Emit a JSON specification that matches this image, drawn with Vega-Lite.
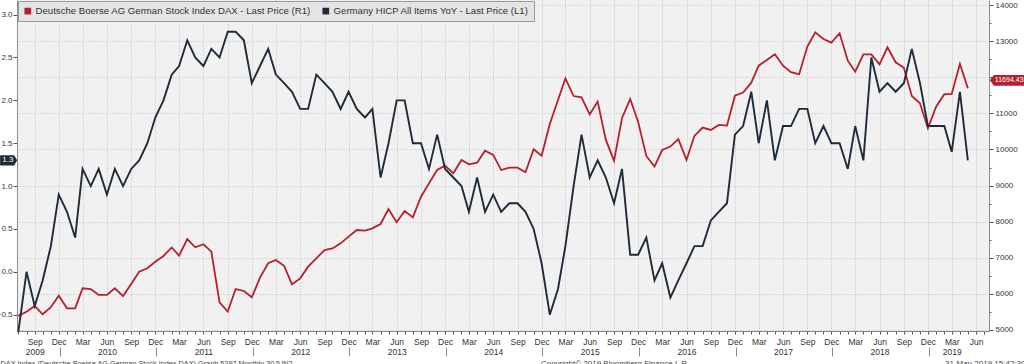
{
  "$schema": "https://vega.github.io/schema/vega-lite/v6.json",
  "width": 972,
  "height": 331,
  "autosize": "none",
  "padding": {"left": 17, "top": 0, "right": 35, "bottom": 33},
  "background": "#ffffff",
  "config": {
    "view": {"fill": "#f1f1f1", "stroke": null},
    "font": "Liberation Sans",
    "axis": {"labelFont": "Liberation Sans", "titleFont": "Liberation Sans"}
  },
  "data": {"values": [
    {"date":"2009-07-01","hicp":-0.7,"dax":5390},
    {"date":"2009-08-01","hicp":0.0,"dax":5505},
    {"date":"2009-09-01","hicp":-0.4,"dax":5665},
    {"date":"2009-10-01","hicp":-0.1,"dax":5435},
    {"date":"2009-11-01","hicp":0.3,"dax":5630},
    {"date":"2009-12-01","hicp":0.9,"dax":5950},
    {"date":"2010-01-01","hicp":0.7,"dax":5600},
    {"date":"2010-02-01","hicp":0.4,"dax":5600},
    {"date":"2010-03-01","hicp":1.2,"dax":6155},
    {"date":"2010-04-01","hicp":1.0,"dax":6135},
    {"date":"2010-05-01","hicp":1.2,"dax":5970},
    {"date":"2010-06-01","hicp":0.9,"dax":5970},
    {"date":"2010-07-01","hicp":1.2,"dax":6155},
    {"date":"2010-08-01","hicp":1.0,"dax":5940},
    {"date":"2010-09-01","hicp":1.2,"dax":6275},
    {"date":"2010-10-01","hicp":1.3,"dax":6615},
    {"date":"2010-11-01","hicp":1.5,"dax":6710},
    {"date":"2010-12-01","hicp":1.8,"dax":6890},
    {"date":"2011-01-01","hicp":2.0,"dax":7050},
    {"date":"2011-02-01","hicp":2.3,"dax":7285},
    {"date":"2011-03-01","hicp":2.4,"dax":7060},
    {"date":"2011-04-01","hicp":2.7,"dax":7520},
    {"date":"2011-05-01","hicp":2.5,"dax":7290},
    {"date":"2011-06-01","hicp":2.4,"dax":7375},
    {"date":"2011-07-01","hicp":2.6,"dax":7170},
    {"date":"2011-08-01","hicp":2.5,"dax":5765},
    {"date":"2011-09-01","hicp":2.8,"dax":5510},
    {"date":"2011-10-01","hicp":2.8,"dax":6135},
    {"date":"2011-11-01","hicp":2.7,"dax":6080},
    {"date":"2011-12-01","hicp":2.2,"dax":5905},
    {"date":"2012-01-01","hicp":2.4,"dax":6450},
    {"date":"2012-02-01","hicp":2.6,"dax":6850},
    {"date":"2012-03-01","hicp":2.3,"dax":6940},
    {"date":"2012-04-01","hicp":2.2,"dax":6780},
    {"date":"2012-05-01","hicp":2.1,"dax":6265},
    {"date":"2012-06-01","hicp":1.9,"dax":6430},
    {"date":"2012-07-01","hicp":1.9,"dax":6755},
    {"date":"2012-08-01","hicp":2.3,"dax":6985},
    {"date":"2012-09-01","hicp":2.2,"dax":7215},
    {"date":"2012-10-01","hicp":2.1,"dax":7260},
    {"date":"2012-11-01","hicp":1.9,"dax":7400},
    {"date":"2012-12-01","hicp":2.1,"dax":7585},
    {"date":"2013-01-01","hicp":1.9,"dax":7770},
    {"date":"2013-02-01","hicp":1.8,"dax":7750},
    {"date":"2013-03-01","hicp":1.9,"dax":7815},
    {"date":"2013-04-01","hicp":1.1,"dax":7935},
    {"date":"2013-05-01","hicp":1.5,"dax":8350},
    {"date":"2013-06-01","hicp":2.0,"dax":7985},
    {"date":"2013-07-01","hicp":2.0,"dax":8295},
    {"date":"2013-08-01","hicp":1.5,"dax":8120},
    {"date":"2013-09-01","hicp":1.5,"dax":8690},
    {"date":"2013-10-01","hicp":1.2,"dax":9060},
    {"date":"2013-11-01","hicp":1.6,"dax":9430},
    {"date":"2013-12-01","hicp":1.2,"dax":9550},
    {"date":"2014-01-01","hicp":1.1,"dax":9340},
    {"date":"2014-02-01","hicp":1.0,"dax":9710},
    {"date":"2014-03-01","hicp":0.7,"dax":9590},
    {"date":"2014-04-01","hicp":1.1,"dax":9635},
    {"date":"2014-05-01","hicp":0.7,"dax":9965},
    {"date":"2014-06-01","hicp":0.9,"dax":9850},
    {"date":"2014-07-01","hicp":0.7,"dax":9430},
    {"date":"2014-08-01","hicp":0.8,"dax":9495},
    {"date":"2014-09-01","hicp":0.8,"dax":9495},
    {"date":"2014-10-01","hicp":0.7,"dax":9370},
    {"date":"2014-11-01","hicp":0.5,"dax":10005},
    {"date":"2014-12-01","hicp":0.1,"dax":9830},
    {"date":"2015-01-01","hicp":-0.5,"dax":10705},
    {"date":"2015-02-01","hicp":-0.2,"dax":11370},
    {"date":"2015-03-01","hicp":0.3,"dax":11970},
    {"date":"2015-04-01","hicp":1.0,"dax":11480},
    {"date":"2015-05-01","hicp":1.6,"dax":11445},
    {"date":"2015-06-01","hicp":1.1,"dax":10975},
    {"date":"2015-07-01","hicp":1.3,"dax":11325},
    {"date":"2015-08-01","hicp":1.1,"dax":10265},
    {"date":"2015-09-01","hicp":0.8,"dax":9690},
    {"date":"2015-10-01","hicp":1.2,"dax":10865},
    {"date":"2015-11-01","hicp":0.2,"dax":11400},
    {"date":"2015-12-01","hicp":0.2,"dax":10770},
    {"date":"2016-01-01","hicp":0.4,"dax":9820},
    {"date":"2016-02-01","hicp":-0.1,"dax":9525},
    {"date":"2016-03-01","hicp":0.1,"dax":9985},
    {"date":"2016-04-01","hicp":-0.3,"dax":10080},
    {"date":"2016-05-01","hicp":-0.1,"dax":10285},
    {"date":"2016-06-01","hicp":0.1,"dax":9710},
    {"date":"2016-07-01","hicp":0.3,"dax":10375},
    {"date":"2016-08-01","hicp":0.3,"dax":10605},
    {"date":"2016-09-01","hicp":0.6,"dax":10540},
    {"date":"2016-10-01","hicp":0.7,"dax":10680},
    {"date":"2016-11-01","hicp":0.8,"dax":10660},
    {"date":"2016-12-01","hicp":1.6,"dax":11490},
    {"date":"2017-01-01","hicp":1.7,"dax":11575},
    {"date":"2017-02-01","hicp":2.1,"dax":11850},
    {"date":"2017-03-01","hicp":1.5,"dax":12320},
    {"date":"2017-04-01","hicp":2.0,"dax":12480},
    {"date":"2017-05-01","hicp":1.3,"dax":12635},
    {"date":"2017-06-01","hicp":1.7,"dax":12320},
    {"date":"2017-07-01","hicp":1.7,"dax":12140},
    {"date":"2017-08-01","hicp":1.9,"dax":12085},
    {"date":"2017-09-01","hicp":1.9,"dax":12850},
    {"date":"2017-10-01","hicp":1.5,"dax":13245},
    {"date":"2017-11-01","hicp":1.7,"dax":13060},
    {"date":"2017-12-01","hicp":1.5,"dax":12960},
    {"date":"2018-01-01","hicp":1.5,"dax":13220},
    {"date":"2018-02-01","hicp":1.2,"dax":12460},
    {"date":"2018-03-01","hicp":1.7,"dax":12155},
    {"date":"2018-04-01","hicp":1.3,"dax":12635},
    {"date":"2018-05-01","hicp":2.5,"dax":12635},
    {"date":"2018-06-01","hicp":2.1,"dax":12360},
    {"date":"2018-07-01","hicp":2.2,"dax":12830},
    {"date":"2018-08-01","hicp":2.1,"dax":12415},
    {"date":"2018-09-01","hicp":2.2,"dax":12265},
    {"date":"2018-10-01","hicp":2.6,"dax":11480},
    {"date":"2018-11-01","hicp":2.2,"dax":11280},
    {"date":"2018-12-01","hicp":1.7,"dax":10585},
    {"date":"2019-01-01","hicp":1.7,"dax":11185},
    {"date":"2019-02-01","hicp":1.7,"dax":11530},
    {"date":"2019-03-01","hicp":1.4,"dax":11540},
    {"date":"2019-04-01","hicp":2.1,"dax":12370},
    {"date":"2019-05-01","hicp":1.3,"dax":11694.43}
  ]},
  "resolve": {"scale": {"y": "independent"}, "axis": {"x": "independent"}},
  "layer": [
    {
      "encoding": {
        "x": {
          "field": "date", "type": "temporal",
          "scale": {"type": "utc", "domain": [{"year": 2009, "month": 6, "date": 26, "utc": true}, {"year": 2019, "month": 7, "date": 20, "utc": true}]},
          "axis": {
            "tickCount": {"interval": "month", "step": 1},
            "labelExpr": "utcmonth(datum.value) % 3 != 2 ? '' : (((utcmonth(datum.value) == 5 && utcyear(datum.value) >= 2010 && utcyear(datum.value) <= 2018) || (utcyear(datum.value) == 2009 && utcmonth(datum.value) == 8) || (utcyear(datum.value) == 2019 && utcmonth(datum.value) == 2)) ? [utcFormat(datum.value, '%b'), utcFormat(datum.value, '%Y')] : utcFormat(datum.value, '%b'))",
            "labelOverlap": false, "labelFlush": false, "labelBound": false,
            "labelFontSize": 8.5, "labelColor": "#333333", "labelLineHeight": 10, "labelPadding": 3,
            "tickSize": 3, "tickColor": "#555555",
            "domainColor": "#8a8a8a",
            "grid": true, "gridDash": [1, 2], "gridColor": "#bcbcbc",
            "gridOpacity": {"condition": {"test": "utcmonth(datum.value) % 3 == 2", "value": 1}, "value": 0},
            "title": "Copyright© 2019 Bloomberg Finance L.P.",
            "titleX": 597, "titleY": 34, "titleAlign": "center", "titleAnchor": "start", "titleBaseline": "alphabetic",
            "titleFontSize": 8, "titleFontWeight": "normal", "titleColor": "#444444"
          }
        },
        "y": {
          "field": "dax", "type": "quantitative",
          "scale": {"domain": [4972, 14140], "nice": false, "zero": false},
          "axis": {
            "orient": "right",
            "values": [5000, 5500, 6000, 6500, 7000, 7500, 8000, 8500, 9000, 9500, 10000, 10500, 11000, 11500, 12000, 12500, 13000, 13500, 14000],
            "labelExpr": "datum.value % 1000 == 0 ? format(datum.value, 'd') : ''",
            "labelOverlap": false,
            "tickSize": {"condition": {"test": "datum.value % 1000 == 0", "value": 4}, "value": 2},
            "tickColor": "#555555",
            "grid": true, "gridDash": [1, 2], "gridColor": "#bcbcbc",
            "gridOpacity": {"condition": {"test": "datum.value % 1000 == 0", "value": 1}, "value": 0},
            "labelFontSize": 8, "labelColor": "#333333", "labelPadding": 2,
            "domainColor": "#8a8a8a",
            "title": "31-May-2019 15:42:30",
            "titleAngle": 0, "titleX": 36, "titleY": 365, "titleAlign": "right", "titleAnchor": "start", "titleBaseline": "alphabetic",
            "titleFontSize": 8, "titleFontWeight": "normal", "titleColor": "#444444"
          }
        }
      },
      "layer": [
        {
          "mark": {"type": "line", "strokeWidth": 1.8, "color": "#b5202e"},
          "encoding": {
            "color": {
              "datum": "Deutsche Boerse AG German Stock Index DAX - Last Price (R1)",
              "scale": {
                "domain": ["Deutsche Boerse AG German Stock Index DAX - Last Price (R1)", "Germany HICP All Items YoY - Last Price (L1)"],
                "range": ["#b5202e", "#1e2b3a"]
              },
              "legend": {
                "orient": "top-left", "direction": "horizontal", "title": null, "offset": 1,
                "fillColor": "#e4e4e4", "strokeColor": "#9a9a9a", "padding": 5,
                "symbolType": "square", "symbolSize": 45, "labelFontSize": 9.6, "labelColor": "#333333",
                "labelLimit": 400, "columnPadding": 10, "labelOffset": 3,
                "encode": {"symbols": {"update": {"fill": {"scale": "color", "field": "value"}, "strokeWidth": {"value": 0}}}}
              }
            }
          }
        },
        {
          "transform": [
            {"joinaggregate": [{"op": "max", "field": "date", "as": "dmax"}]},
            {"filter": "time(datum.date) == time(datum.dmax)"}
          ],
          "mark": {"type": "point", "shape": "M-1,0 L-0.8,-0.27 L1,-0.27 L1,0.27 L-0.8,0.27 Z", "size": 1600, "filled": true, "color": "#b5202e", "opacity": 1, "strokeWidth": 0, "xOffset": 42, "yOffset": -8}
        },
        {
          "transform": [
            {"joinaggregate": [{"op": "max", "field": "date", "as": "dmax"}]},
            {"filter": "time(datum.date) == time(datum.dmax)"}
          ],
          "mark": {"type": "text", "align": "left", "baseline": "middle", "color": "#ffffff", "fontSize": 7, "xOffset": 27, "yOffset": -8},
          "encoding": {"text": {"field": "dax", "type": "quantitative", "format": ".2f"}}
        }
      ]
    },
    {
      "encoding": {
        "x": {
          "field": "date", "type": "temporal",
          "scale": {"type": "utc"},
          "axis": {
            "orient": "bottom", "offset": 16,
            "values": [
              {"year": 2009, "month": 12, "date": 4, "utc": true},
              {"year": 2010, "month": 12, "date": 4, "utc": true},
              {"year": 2011, "month": 12, "date": 4, "utc": true},
              {"year": 2012, "month": 12, "date": 4, "utc": true},
              {"year": 2013, "month": 12, "date": 4, "utc": true},
              {"year": 2014, "month": 12, "date": 4, "utc": true},
              {"year": 2015, "month": 12, "date": 4, "utc": true},
              {"year": 2016, "month": 12, "date": 4, "utc": true},
              {"year": 2017, "month": 12, "date": 4, "utc": true},
              {"year": 2018, "month": 12, "date": 4, "utc": true}
            ],
            "labels": false, "domain": false, "grid": false,
            "tickSize": 9, "tickColor": "#8a8a8a", "title": null
          }
        },
        "y": {
          "field": "hicp", "type": "quantitative",
          "scale": {"domain": [-0.69, 3.17], "nice": false, "zero": false},
          "axis": {
            "orient": "left",
            "values": [-0.5, 0, 0.5, 1, 1.5, 2, 2.5, 3],
            "format": ".1f",
            "labelOverlap": false,
            "grid": false, "tickSize": 4, "tickColor": "#555555",
            "labelFontSize": 8, "labelColor": "#333333", "labelPadding": 1,
            "domainColor": "#8a8a8a",
            "title": "DAX Index (Deutsche Boerse AG German Stock Index DAX) Graph 5297  Monthly 30JUN2",
            "titleAngle": 0, "titleX": -17, "titleY": 365, "titleAlign": "left", "titleAnchor": "start", "titleBaseline": "alphabetic",
            "titleFontSize": 7.3, "titleFontWeight": "normal", "titleColor": "#444444"
          }
        }
      },
      "layer": [
        {
          "mark": {"type": "line", "strokeWidth": 1.9, "color": "#1e2b3a"},
          "encoding": {"color": {"datum": "Germany HICP All Items YoY - Last Price (L1)"}}
        },
        {
          "transform": [
            {"joinaggregate": [{"op": "max", "field": "date", "as": "dmax"}]},
            {"filter": "time(datum.date) == time(datum.dmax)"}
          ],
          "mark": {"type": "point", "shape": "M1,0 L0.65,-0.6 L-1,-0.6 L-1,0.6 L0.65,0.6 Z", "size": 289, "filled": true, "color": "#1e2b3a", "opacity": 1, "strokeWidth": 0, "xOffset": -959.2}
        },
        {
          "transform": [
            {"joinaggregate": [{"op": "max", "field": "date", "as": "dmax"}]},
            {"filter": "time(datum.date) == time(datum.dmax)"}
          ],
          "mark": {"type": "text", "align": "center", "baseline": "middle", "color": "#ffffff", "fontSize": 8, "xOffset": -960},
          "encoding": {"text": {"field": "hicp", "type": "quantitative", "format": ".1f"}}
        }
      ]
    }
  ]
}
